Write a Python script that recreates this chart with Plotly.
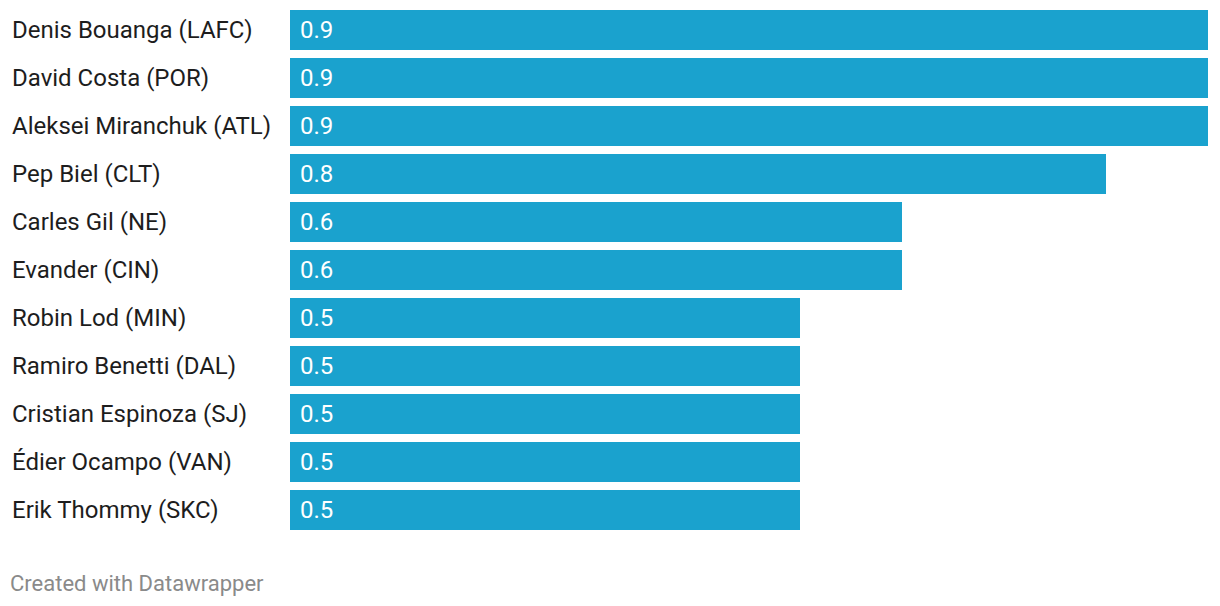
import plotly.graph_objects as go

players = [
    "Denis Bouanga (LAFC)", "David Costa (POR)", "Aleksei Miranchuk (ATL)",
    "Pep Biel (CLT)", "Carles Gil (NE)", "Evander (CIN)", "Robin Lod (MIN)",
    "Ramiro Benetti (DAL)", "Cristian Espinoza (SJ)", "Édier Ocampo (VAN)",
    "Erik Thommy (SKC)",
]
values = [0.9, 0.9, 0.9, 0.8, 0.6, 0.6, 0.5, 0.5, 0.5, 0.5, 0.5]

BAR = "#1aa2ce"
FONT = "Roboto"

fig = go.Figure(go.Bar(
    x=values, y=players, orientation="h",
    marker=dict(color=BAR, line=dict(width=0)),
    hoverinfo="skip",
))

annotations = []
for p, v in zip(players, values):
    annotations.append(dict(
        x=0, y=p, xref="paper", yref="y", text=p, showarrow=False,
        xanchor="left", yanchor="middle", xshift=-280,
        font=dict(family=FONT, size=24, color="#1d1d1d"),
    ))
    annotations.append(dict(
        x=0, y=p, xref="x", yref="y", text=f"{v:.1f}", showarrow=False,
        xanchor="left", yanchor="middle", xshift=8,
        font=dict(family=FONT, size=24, color="#ffffff"),
    ))
annotations.append(dict(
    x=0, y=0, xref="paper", yref="paper", text="Created with Datawrapper",
    showarrow=False, xanchor="left", yanchor="middle", xshift=-282, yshift=-49,
    font=dict(family=FONT, size=22, color="#8a8a8a"),
))

n = len(players)
fig.update_layout(
    width=1212, height=598,
    margin=dict(l=282, r=12, t=0, b=72),
    paper_bgcolor="white", plot_bgcolor="white",
    bargap=8 / 48,
    showlegend=False,
    xaxis=dict(range=[0, 0.9], visible=False, fixedrange=True),
    yaxis=dict(range=[n - 0.5, -22 / 48], showticklabels=False, showgrid=False,
               zeroline=False, fixedrange=True),
    annotations=annotations,
)

fig.write_html("out.html", config={"displayModeBar": False})
